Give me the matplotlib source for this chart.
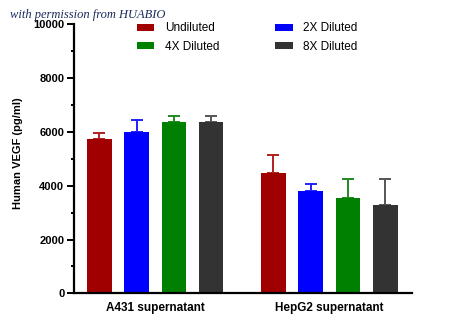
import matplotlib
matplotlib.use("Agg")
import matplotlib.pyplot as plt
from matplotlib.patches import Patch
import numpy as np

# Human VEGF ELISA readings per dilution, mean and upper error (pg/ml)
samples = ["A431 supernatant", "HepG2 supernatant"]
dilutions = ["Undiluted", "2X Diluted", "4X Diluted", "8X Diluted"]
colors = ["#a00000", "#0000ff", "#008000", "#333333"]
err_colors = ["#b02020", "#2020ff", "#208a20", "#555555"]
means = {
    "Undiluted": [5725, 4485],
    "2X Diluted": [5985, 3815],
    "4X Diluted": [6380, 3530],
    "8X Diluted": [6380, 3270],
}
errors = {
    "Undiluted": [225, 645],
    "2X Diluted": [455, 250],
    "4X Diluted": [220, 720],
    "8X Diluted": [220, 990],
}

plt.rcParams["font.family"] = ["Liberation Sans", "DejaVu Sans"]

fig = plt.figure(figsize=(4.5, 3.24), dpi=100)
ax = fig.add_axes([0.1644, 0.0947, 0.9149 - 0.1644, 0.925 - 0.0947])

group_offset = 4.67
width = 0.66
for i, name in enumerate(dilutions):
    xs = np.arange(len(samples)) * group_offset + i
    ax.bar(xs, means[name], width=width, color=colors[i], zorder=2)
    ax.errorbar(xs, means[name], yerr=[np.zeros(len(samples)), errors[name]],
                fmt="none", ecolor=err_colors[i], elinewidth=1.4,
                capsize=4.5, capthick=1.4, zorder=1)

ax.set_xlim(-0.678, 8.375)
ax.set_ylim(0, 10000)
ax.set_yticks(np.arange(0, 10001, 2000))
ax.set_yticks(np.arange(1000, 10000, 2000), minor=True)
ax.set_xticks([1.5, 1.5 + group_offset])
ax.set_xticklabels(samples, fontweight="bold", fontsize=8.5)
ax.tick_params(axis="x", length=0, pad=6)
ax.tick_params(axis="y", which="major", length=5, width=1.4, pad=2,
               labelsize=8)
ax.tick_params(axis="y", which="minor", length=2.5, width=1.4)
for lbl in ax.get_yticklabels():
    lbl.set_fontweight("bold")

for side in ["top", "right"]:
    ax.spines[side].set_visible(False)
for side in ["left", "bottom"]:
    ax.spines[side].set_linewidth(1.6)

ax.set_ylabel("Human VEGF (pg/ml)", fontweight="bold", fontsize=8)
ax.yaxis.set_label_coords(-0.15, 0.52)

handles = [Patch(facecolor=c, label=n) for c, n in zip(colors, dilutions)]
order = [0, 2, 1, 3]
fig.legend([handles[k] for k in order], [dilutions[k] for k in order],
           ncol=2, frameon=False, fontsize=8.5,
           loc="upper left", bbox_to_anchor=(138 / 450 - 0.008, 1 - 20 / 324),
           handlelength=1.5, handleheight=0.5, handletextpad=0.9,
           columnspacing=4.7, labelspacing=0.55, borderpad=0.2,
           borderaxespad=0)

fig.text(10 / 450, 1 - 15 / 324, "with permission from HUABIO",
         fontsize=9, fontstyle="italic", family="Liberation Serif",
         color="#1b2b5b", va="center", ha="left")

fig.savefig("out.png", dpi=100)
